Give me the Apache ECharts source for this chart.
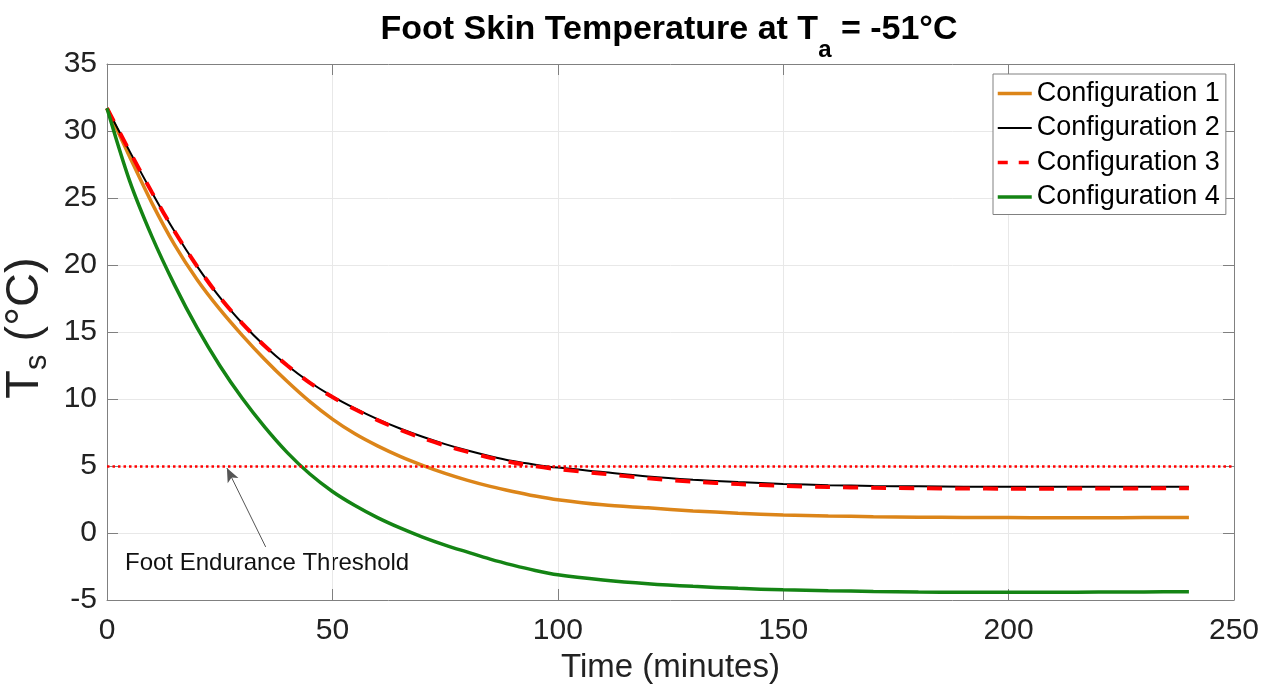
<!DOCTYPE html>
<html>
<head>
<meta charset="utf-8">
<script src="https://cdn.jsdelivr.net/npm/echarts@6/dist/echarts.min.js"></script>
<style>
  html, body { margin: 0; padding: 0; background: #fff; }
  #chart { width: 1271px; height: 690px; }
</style>
</head>
<body>
<div id="chart"></div>
<script>
// time in minutes
var time = [0, 5, 10, 15, 20, 25, 30, 35, 40, 45, 50, 55, 60, 65, 70, 75, 80, 85, 90, 95, 100,
    110, 120, 130, 140, 150, 160, 170, 180, 190, 200, 210, 220, 230, 240];

// skin temperature (°C)
var config1 = [31.7, 28.1, 24.6, 21.5, 18.9, 16.7, 14.75, 12.95, 11.3, 9.8, 8.5, 7.4, 6.5, 5.72, 5.05, 4.45, 3.93, 3.48, 3.1, 2.76, 2.48,
    2.1, 1.88, 1.65, 1.48, 1.34, 1.27, 1.22, 1.18, 1.16, 1.15, 1.14, 1.14, 1.15, 1.16];
var config2 = [31.7, 28.5, 25.4, 22.5, 19.9, 17.6, 15.65, 13.95, 12.5, 11.25, 10.2, 9.3, 8.5, 7.8, 7.18, 6.63, 6.15, 5.73, 5.37, 5.1, 4.88,
    4.55, 4.22, 3.98, 3.8, 3.66, 3.57, 3.51, 3.48, 3.46, 3.45, 3.45, 3.45, 3.46, 3.46];
var config3 = [31.7, 28.5, 25.4, 22.5, 19.9, 17.6, 15.65, 13.95, 12.5, 11.2, 10.15, 9.23, 8.42, 7.7, 7.08, 6.53, 6.05, 5.62, 5.26, 4.98, 4.76,
    4.42, 4.08, 3.83, 3.65, 3.52, 3.43, 3.37, 3.34, 3.32, 3.31, 3.31, 3.32, 3.33, 3.34];
var config4 = [31.7, 26.3, 22.1, 18.5, 15.3, 12.5, 10.05, 7.9, 6.0, 4.4, 3.1, 2.05, 1.15, 0.38, -0.3, -0.9, -1.43, -1.95, -2.4, -2.8, -3.12,
    -3.5, -3.78, -3.98, -4.13, -4.24, -4.31, -4.36, -4.4, -4.42, -4.42, -4.42, -4.41, -4.4, -4.38];

var seriesNames = ['Configuration 1', 'Configuration 2', 'Configuration 3', 'Configuration 4'];
var seriesColors = ['#dc8519', '#000000', '#ff0000', '#148414'];
var seriesWidths = [3.5, 2, 4, 3.5];
var seriesDash = ['solid', 'solid', [15, 13], 'solid'];
var threshold = 5;
var arrowTail = [35.2, -1.04];
var arrowTip = [26.6, 4.85];

var font = "'Liberation Sans', Arial, sans-serif";

function pairs(ys) {
    var out = [];
    for (var i = 0; i < time.length; i++) {
        out.push([time[i], ys[i]]);
    }
    return out;
}

function axisBox(pos) {
    var horiz = pos == 'top' || pos == 'bottom';
    return {
        type: 'value',
        position: pos,
        min: horiz ? 0 : -5,
        max: horiz ? 250 : 35,
        interval: horiz ? 50 : 5,
        axisLine: { show: true, onZero: false, lineStyle: { color: '#808080', width: 1 } },
        axisTick: { show: true, inside: true, length: 11, lineStyle: { color: '#808080' } },
        axisLabel: { show: false },
        splitLine: { show: false }
    };
}

function lineSeries(i, ys) {
    return {
        name: seriesNames[i],
        type: 'line',
        data: pairs(ys),
        showSymbol: false,
        symbol: 'none',
        smooth: 0.3,
        lineStyle: { color: seriesColors[i], width: seriesWidths[i], type: seriesDash[i] },
        itemStyle: { color: seriesColors[i] }
    };
}

var legendData = seriesNames.map(function (n, i) {
    return { name: n, lineStyle: { width: seriesWidths[i] == 2 ? 2 : 3.5, type: seriesDash[i] == 'solid' ? 'solid' : [10, 11] } };
});

var chart = echarts.init(document.getElementById('chart'));

var s1 = lineSeries(0, config1);
s1.markLine = {
    silent: true,
    animation: false,
    symbol: ['none', 'none'],
    label: { show: false },
    data: [
        { yAxis: threshold, lineStyle: { color: '#ff0000', width: 2.5, type: [2.5, 3] } },
        [{ coord: arrowTail, symbol: 'none', lineStyle: { color: '#555', width: 1, type: 'solid' } },
         { coord: arrowTip, symbol: 'arrow', symbolSize: [9, 14], itemStyle: { color: '#000' } }]
    ]
};

chart.setOption({
    animation: false,
    backgroundColor: '#fff',
    title: {
        text: '{t|Foot Skin Temperature at T}{s|a}{t| = -51°C}',
        left: 664,
        textAlign: 'center',
        top: 8,
        textStyle: {
            rich: {
                t: { fontFamily: font, fontSize: 34, fontWeight: 'bold', color: '#000', verticalAlign: 'top', lineHeight: 38 },
                s: { fontFamily: font, fontSize: 24, fontWeight: 'bold', color: '#000', verticalAlign: 'top', lineHeight: 26, padding: [25, 0, 0, 0] }
            }
        }
    },
    grid: { left: 107, right: 37, top: 64, bottom: 90, containLabel: false, outerBoundsMode: 'none' },
    legend: {
        orient: 'vertical',
        left: 993,
        top: 74,
        padding: [6, 6, 4, 3],
        itemWidth: 34,
        itemHeight: 14,
        itemGap: 7.5,
        borderColor: '#808080',
        borderWidth: 1,
        backgroundColor: '#fff',
        itemStyle: { color: 'rgba(0,0,0,0)', borderWidth: 0 },
        textStyle: { fontFamily: font, fontSize: 27, color: '#000', lineHeight: 26 },
        data: legendData
    },
    xAxis: [{
        type: 'value',
        min: 0,
        max: 250,
        interval: 50,
        name: 'Time (minutes)',
        nameLocation: 'middle',
        nameGap: 51,
        nameTextStyle: { fontFamily: font, fontSize: 33, color: '#222' },
        axisLine: { show: true, onZero: false, lineStyle: { color: '#808080', width: 1 } },
        axisTick: { show: true, inside: true, length: 11, lineStyle: { color: '#808080' } },
        axisLabel: { fontFamily: font, fontSize: 30, color: '#222', margin: 16 },
        splitLine: { show: true, lineStyle: { color: '#e8e8e8', width: 1 } }
    }, axisBox('top')],
    yAxis: [{
        type: 'value',
        min: -5,
        max: 35,
        interval: 5,
        name: '{t|T}{s|s}{t| (°C)}',
        nameLocation: 'middle',
        nameRotate: 90,
        nameGap: 54,
        nameTextStyle: {
            padding: [0, 0, 0, 8],
            rich: {
                t: { fontFamily: font, fontSize: 47, color: '#222', verticalAlign: 'top', lineHeight: 46 },
                s: { fontFamily: font, fontSize: 31, color: '#222', verticalAlign: 'top', lineHeight: 30, padding: [20, 0, 0, 0] }
            }
        },
        axisLine: { show: true, onZero: false, lineStyle: { color: '#808080', width: 1 } },
        axisTick: { show: true, inside: true, length: 11, lineStyle: { color: '#808080' } },
        axisLabel: { fontFamily: font, fontSize: 30, color: '#222', margin: 10 },
        splitLine: { show: true, lineStyle: { color: '#e8e8e8', width: 1 } }
    }, axisBox('right')],
    graphic: [{
        type: 'text',
        x: 125,
        y: 563,
        style: {
            text: 'Foot Endurance Threshold',
            font: "24px 'Liberation Sans', Arial, sans-serif",
            fill: '#111',
            verticalAlign: 'middle'
        }
    }],
    series: [
        s1,
        lineSeries(1, config2),
        lineSeries(2, config3),
        lineSeries(3, config4)
    ]
});
</script>
</body>
</html>
